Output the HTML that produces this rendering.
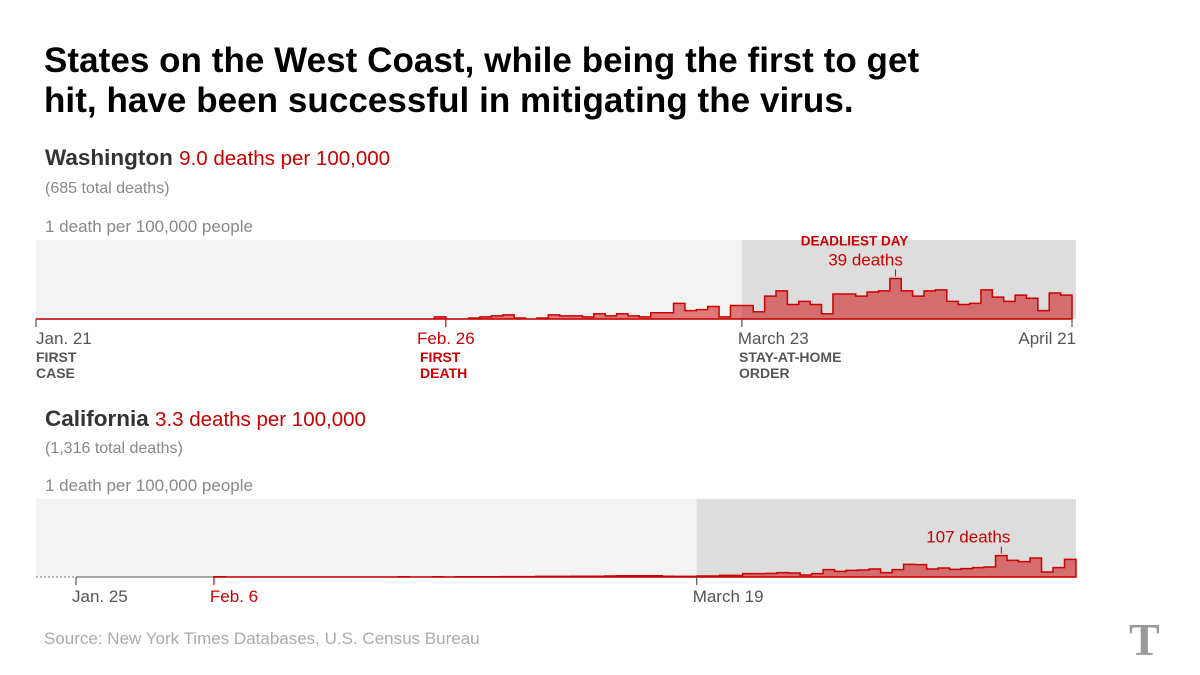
<!DOCTYPE html>
<html><head><meta charset="utf-8"><style>
body{margin:0;width:1200px;height:675px;background:#fff;font-family:"Liberation Sans",sans-serif;overflow:hidden;position:relative}
.t{position:absolute;white-space:nowrap}
</style></head><body>
<div class="t" style="left:44px;top:41px;font-size:35px;font-weight:bold;line-height:40px;color:#000;letter-spacing:0.05px">States on the West Coast, while being the first to get<br>hit, have been successful in mitigating the virus.</div>
<svg id="svg" width="1200" height="675" style="position:absolute;left:0;top:0"></svg>
<script>
const waValues=[0,0,0,0,0,0,0,0,0,0,0,0,0,0,0,0,0,0,0,0,0,0,0,0,0,0,0,0,0,0,0,0,0,0,0,
2,0,0,1,2,3,4,1,0,1,4,3,3,2,5,3,5,3,2,6,6,15,8,9,12,2,
13,13,7,22,27,14,17,14,5,24,24,22,26,27,39,27,22,27,28,17,14,15,28,21,17,23,20,8,25,23];
const caValues=[null,null,null,null,null,null,null,null,null,null,null,null,
1,0,0,0,0,0,0,0,0,0,0,0,0,0,0,0,1,0,0,1,0,1,1,1,1,2,2,2,3,3,3,4,4,4,5,6,6,6,6,4,3,3,
5,5,8,8,17,17,18,22,20,10,17,37,28,33,35,40,22,37,63,62,40,45,38,42,47,50,107,83,77,95,25,47,88];
const waTicks=[{d:0,l:"Jan. 21",c:"#555",a:"start"},{d:36,l:"Feb. 26",c:"#c00",a:"middle"},{d:62,l:"March 23",c:"#555",a:"start"},{d:91,l:"April 21",c:"#555",a:"end"}];
const caTicks=[{d:0,l:"Jan. 25",c:"#555",a:"start"},{d:12,l:"Feb. 6",c:"#c00",a:"start"},{d:54,l:"March 19",c:"#555",a:"start"}];
const svg=document.getElementById('svg');const NS="http://www.w3.org/2000/svg";
function mk(t,a,p){const e=document.createElementNS(NS,t);for(const k in a)e.setAttribute(k,a[k]);(p||svg).appendChild(e);return e;}
function txt(x,y,s,c,sz,w,anchor,name){const e=mk('text',{x:x,y:y,fill:c,'font-size':sz,'font-weight':w||'normal','text-anchor':anchor||'start','font-family':'Liberation Sans, sans-serif'});e.textContent=s;


return e;}
function chart(vals,ticks,o){
 const x=d=>o.x0+d*o.dw, y=v=>o.base-v*o.pxPer;
 let r=mk('rect',{x:36,y:o.top,width:1040,height:o.base-o.top,fill:'#f3f3f3'});
 
 
 r=mk('rect',{x:x(o.shade),y:o.top,width:1076-x(o.shade),height:o.base-o.top,fill:'#dddddd'});
 
 
 if(o.dotted){const l=mk('line',{x1:36,y1:o.base,x2:x(0),y2:o.base,stroke:'#777','stroke-dasharray':'2,2'});
 
 }
 const bl=mk('line',{x1:x(0),y1:o.base,x2:x(vals.length),y2:o.base,stroke:'#777','stroke-width':1.2});
 
 
 let first=vals.findIndex(v=>v!==null);
 let d=`M${x(first)},${o.base}`;
 for(let i=first;i<vals.length;i++){d+=` L${x(i)},${y(vals[i])} L${x(i+1)},${y(vals[i])}`;}
 d+=` L${x(vals.length)},${o.base} Z`;
 const p=mk('path',{d:d,fill:'rgba(204,0,0,0.5)',stroke:'#cc0000','stroke-width':1.5});
 
 
 ticks.forEach(t=>{const tl=mk('line',{x1:x(t.d),y1:o.base,x2:x(t.d),y2:o.base+8,stroke:t.c,'stroke-width':1.2});
 
 
 const off=t.a==='end'?4:t.a==='start'?(t.d===0&&!o.dotted?0:-4):0;
 txt(x(t.d)+off,o.base+25,t.l,t.c,17,'normal',t.a,o.name+'-tick-label');});
 let pk=0;vals.forEach((v,i)=>{if(v!==null&&v>vals[pk])pk=i;});
 const pl=mk('line',{x1:x(pk+0.5),y1:y(vals[pk])-2,x2:x(pk+0.5),y2:y(vals[pk])-9,stroke:'#c00'});
 
 
 txt(x(pk+0.5)+o.lblOff,y(vals[pk])-13,vals[pk]+' deaths','#c00',17,'normal','middle',o.name+'-peak-label');
 if(o.deadliest)txt(x(pk+0.5)+o.lblOff-11,y(vals[pk])-33,'DEADLIEST DAY','#c00',13.5,'bold','middle','deadliest-day-label');
}
chart(waValues,waTicks,{name:'washington',x0:36,dw:1036/91,base:319,top:240,pxPer:79/76,shade:62,deadliest:true,lblOff:-30});
chart(caValues,caTicks,{name:'california',x0:76,dw:1000/87,base:577,top:499,pxPer:79/395,shade:54,dotted:true,lblOff:-33});
</script>
<div class="t" style="left:45px;top:145px;font-size:22.5px;color:#333"><b>Washington</b> <span style="color:#c00;font-size:20.5px">9.0 deaths per 100,000</span></div>
<div class="t" style="left:45px;top:180px;font-size:16px;color:#888">(685 total deaths)</div>
<div class="t" style="left:45px;top:217px;font-size:17px;color:#888">1 death per 100,000 people</div>
<div class="t" style="left:36px;top:349px;font-size:14px;font-weight:bold;color:#555;line-height:16px">FIRST<br>CASE</div>
<div class="t" style="left:420px;top:349px;font-size:14px;font-weight:bold;color:#c00;line-height:16px">FIRST<br>DEATH</div>
<div class="t" style="left:739px;top:349px;font-size:14px;font-weight:bold;color:#555;line-height:16px">STAY-AT-HOME<br>ORDER</div>
<div class="t" style="left:45px;top:406px;font-size:22.5px;color:#333"><b>California</b> <span style="color:#c00;font-size:20.5px">3.3 deaths per 100,000</span></div>
<div class="t" style="left:45px;top:440px;font-size:16px;color:#888">(1,316 total deaths)</div>
<div class="t" style="left:45px;top:476px;font-size:17px;color:#888">1 death per 100,000 people</div>
<div class="t" style="left:44px;top:629px;font-size:17px;color:#aaa">Source: New York Times Databases, U.S. Census Bureau</div>
<div class="t" style="left:1129px;top:613px;font-size:46px;font-family:'Liberation Serif',serif;font-weight:bold;color:#999">T</div>
</body></html>
